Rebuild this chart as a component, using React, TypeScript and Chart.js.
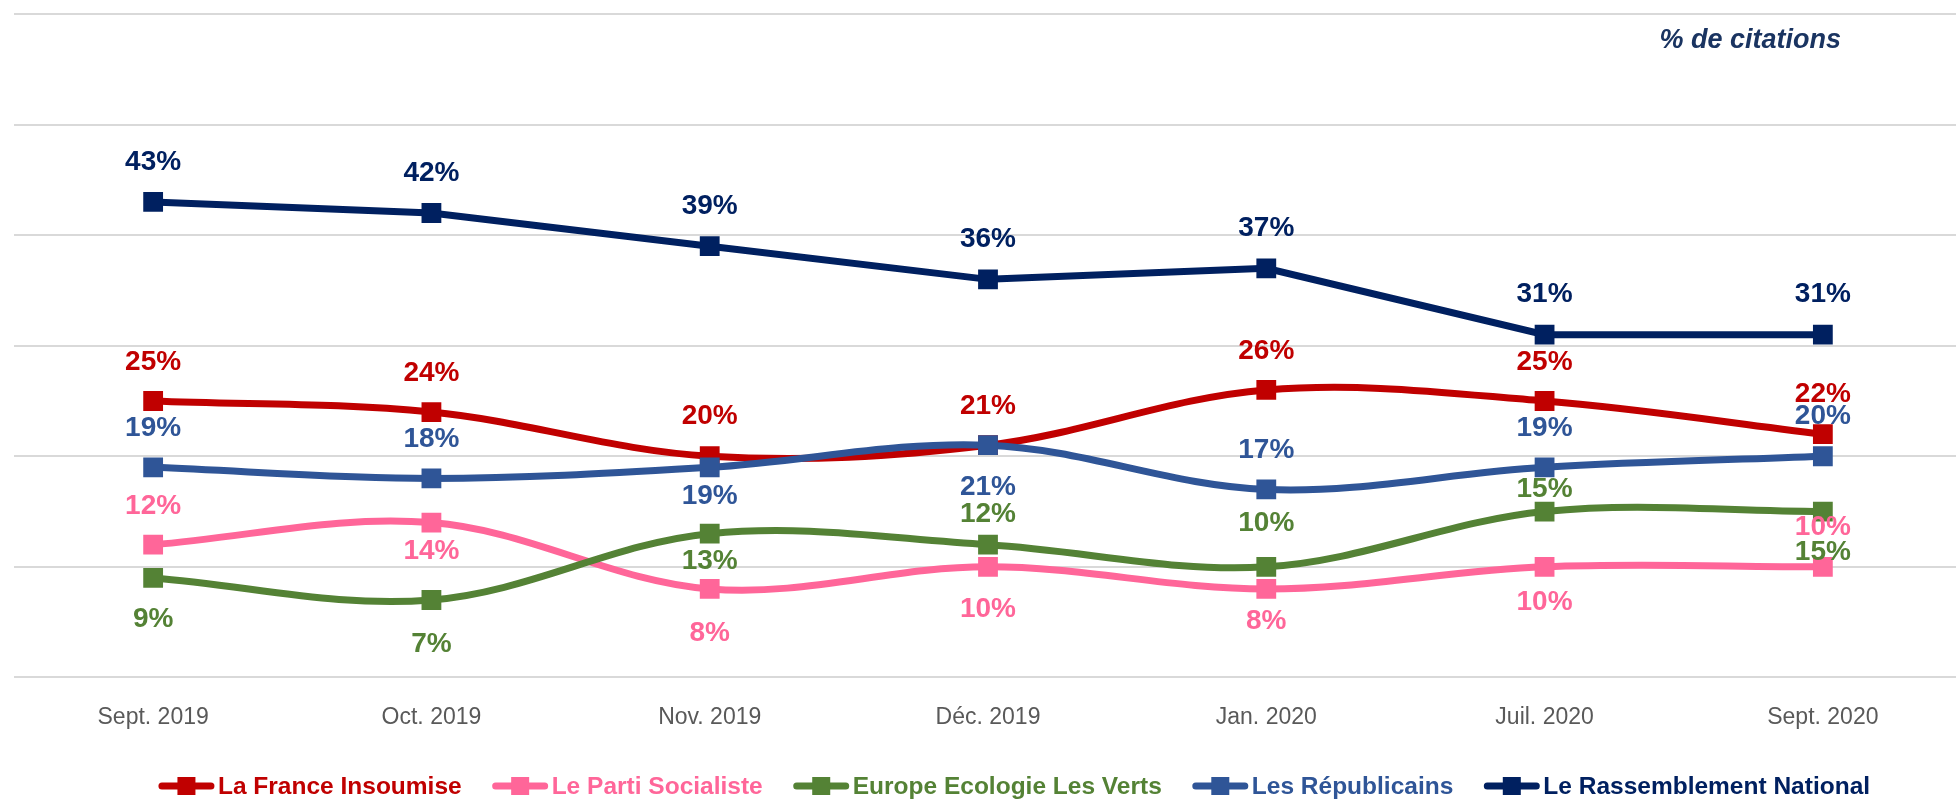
import React, { useEffect, useRef } from "react";
import { Chart, registerables } from "chart.js";

Chart.register(...registerables);

const categories = ["Sept. 2019", "Oct. 2019", "Nov. 2019", "Déc. 2019", "Jan. 2020", "Juil. 2020", "Sept. 2020"];
const lfiValues = [25, 24, 20, 21, 26, 25, 22];
const psValues = [12, 14, 8, 10, 8, 10, 10];
const eelvValues = [9, 7, 13, 12, 10, 15, 15];
const lrValues = [19, 18, 19, 21, 17, 19, 20];
const rnValues = [43, 42, 39, 36, 37, 31, 31];
const seriesNames = ["La France Insoumise", "Le Parti Socialiste", "Europe Ecologie Les Verts", "Les Républicains", "Le Rassemblement National"];
const seriesValues = [lfiValues, psValues, eelvValues, lrValues, rnValues];
const seriesColors = ["#C00000", "#FF6699", "#548235", "#2F5597", "#002060"];
const seriesSmooth = [true, true, true, true, false];
const yMin = 0;
const yMax = 60;
const yStep = 10;
const unitTitle = "% de citations";

// vertical label offsets in px (negative = above the point)
const lfiLabelOffsets = [-39, -39, -40, -39, -39, -39, -40];
const psLabelOffsets = [-38, 29, 44, 42, 32, 35, -40];
const eelvLabelOffsets = [41, 44, 28, -30, -44, -22, 41];
const lrLabelOffsets = [-39, -39, 29, 42, -39, -39, -40];
const rnLabelOffsets = [-40, -40, -40, -40, -40, -40, -40];
const labelOffsets = [lfiLabelOffsets, psLabelOffsets, eelvLabelOffsets, lrLabelOffsets, rnLabelOffsets];

const FONT = "'Liberation Sans', Arial, sans-serif";

const overlayPlugin = {
  id: "overlay",
  afterDatasetsDraw(chart: any) {
    const ctx = chart.ctx as CanvasRenderingContext2D;
    ctx.save();
    // data labels
    ctx.font = `bold 28px ${FONT}`;
    ctx.textAlign = "center";
    ctx.textBaseline = "middle";
    chart.data.datasets.forEach((ds: any, i: number) => {
      const meta = chart.getDatasetMeta(i);
      meta.data.forEach((pt: any, j: number) => {
        ctx.fillStyle = seriesColors[i];
        ctx.fillText(`${ds.data[j]}%`, pt.x, pt.y + labelOffsets[i][j]);
      });
    });
    // unit title
    ctx.font = `italic bold 27px ${FONT}`;
    ctx.textAlign = "right";
    ctx.fillStyle = "#1A3461";
    ctx.fillText(unitTitle, 1841, 41);
    // legend
    ctx.font = `bold 24.5px ${FONT}`;
    ctx.textAlign = "left";
    const markerW = 57;
    const textGap = 3;
    const itemGap = 30;
    const widths = seriesNames.map((n) => ctx.measureText(n).width);
    const total = widths.reduce((a, w) => a + markerW + textGap + w, 0) + itemGap * (seriesNames.length - 1);
    let x = 1014 - total / 2;
    const y = 786;
    seriesNames.forEach((n, i) => {
      ctx.strokeStyle = seriesColors[i];
      ctx.fillStyle = seriesColors[i];
      ctx.lineWidth = 7;
      ctx.lineCap = "round";
      ctx.beginPath();
      ctx.moveTo(x + 4, y);
      ctx.lineTo(x + markerW - 4, y);
      ctx.stroke();
      ctx.fillRect(x + markerW / 2 - 9, y - 9, 18, 18);
      ctx.fillText(n, x + markerW + textGap, y + 1);
      x += markerW + textGap + widths[i] + itemGap;
    });
    ctx.restore();
  },
};

export default function App() {
  const canvasRef = useRef<HTMLCanvasElement | null>(null);

  useEffect(() => {
    if (!canvasRef.current) return;
    const chart = new Chart(canvasRef.current, {
      type: "line",
      data: {
        labels: categories,
        datasets: seriesValues.map((vals, i) => ({
          label: seriesNames[i],
          data: vals,
          borderColor: seriesColors[i],
          backgroundColor: seriesColors[i],
          borderWidth: 7,
          tension: seriesSmooth[i] ? 0.35 : 0,
          pointStyle: "rect",
          pointRadius: 14,
          pointBorderWidth: 0,
          pointBackgroundColor: seriesColors[i],
          order: seriesNames.length - 1 - i,
          fill: false,
        })),
      },
      options: {
        responsive: false,
        animation: false,
        devicePixelRatio: 1,
        layout: { padding: { left: 12, top: 13, right: 0, bottom: 45 } },
        plugins: {
          legend: { display: false },
          tooltip: { enabled: false },
          title: { display: false },
        },
        scales: {
          x: {
            offset: true,
            grid: { display: false, drawTicks: false },
            border: { display: false },
            ticks: {
              color: "#595959",
              font: { family: FONT, size: 23 },
              padding: 26,
              maxRotation: 0,
              autoSkip: false,
            },
          },
          y: {
            min: yMin,
            max: yMax,
            grid: { color: "#D9D9D9", lineWidth: 2, drawTicks: false },
            border: { display: false },
            ticks: { display: false, stepSize: yStep },
          },
        },
      },
      plugins: [overlayPlugin],
    });
    return () => chart.destroy();
  }, []);

  return (
    <div style={{ position: "fixed", left: 0, top: 0, width: "100vw", height: "100vh", overflow: "hidden", background: "#fff" }}>
      <canvas ref={canvasRef} width={1976} height={802} style={{ display: "block" }} />
    </div>
  );
}
